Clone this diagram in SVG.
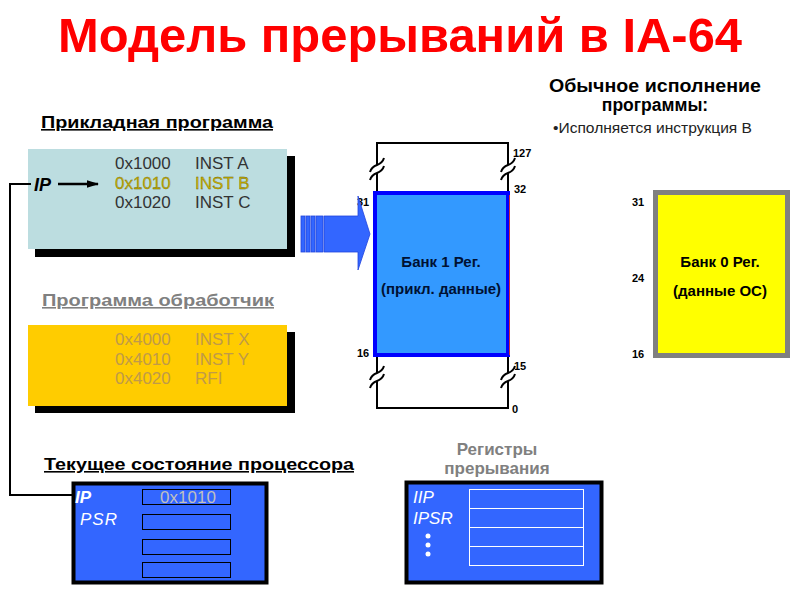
<svg xmlns="http://www.w3.org/2000/svg" width="800" height="600" viewBox="0 0 800 600">
<defs>
<style>
text{font-family:"Liberation Sans",Arial,sans-serif}
.b{font-weight:bold}
.code{font-size:17px;fill:#333}
.hl{font-size:17px;fill:#c8b000;stroke:#6a5c00;stroke-width:0.3}
.hcode{font-size:17px;fill:#c09a48}
.num{font-size:11px;font-weight:bold;fill:#000}
.wire{fill:none;stroke:#000;stroke-width:2}
.brk{fill:none;stroke:#000;stroke-width:2}
.gap{fill:#fff;stroke:none}
.wl{fill:#fff;font-style:italic;font-size:17px}
</style>
<marker id="ah" viewBox="0 0 10 10" refX="9" refY="5" markerWidth="5" markerHeight="5" orient="auto"><path d="M0,2 L10,5 L0,8 z" fill="#000"/></marker>
</defs>
<rect width="800" height="600" fill="#fff"/>
<text x="400" y="52" text-anchor="middle" class="b" font-size="48" fill="#ff0000" textLength="684" lengthAdjust="spacingAndGlyphs">Модель прерываний в IA-64</text>

<g id="app-program">
<text x="41" y="128" class="b" font-size="16" fill="#000" text-decoration="underline" textLength="232" lengthAdjust="spacingAndGlyphs">Прикладная программа</text>
<rect x="35" y="156" width="260" height="101" fill="#000"/>
<rect x="28" y="149" width="259" height="100" fill="#bcdde0"/>
<text x="115" y="169" class="code">0x1000</text><text x="195" y="169" class="code">INST A</text>
<text x="115" y="189" class="hl">0x1010</text><text x="195" y="189" class="hl">INST B</text>
<text x="115" y="208" class="code">0x1020</text><text x="195" y="208" class="code">INST C</text>
<text x="34" y="191" class="b" font-style="italic" font-size="18" fill="#000">IP</text>
</g>

<g id="handler-program">
<text x="42" y="306" class="b" font-size="16" fill="#808080" text-decoration="underline" textLength="232" lengthAdjust="spacingAndGlyphs">Программа обработчик</text>
<rect x="35" y="332" width="260" height="81" fill="#000"/>
<rect x="28" y="325" width="259" height="81" fill="#ffcc00"/>
<text x="115" y="345" class="hcode">0x4000</text><text x="195" y="345" class="hcode">INST X</text>
<text x="115" y="365" class="hcode">0x4010</text><text x="195" y="365" class="hcode">INST Y</text>
<text x="115" y="384" class="hcode">0x4020</text><text x="195" y="384" class="hcode">RFI</text>
</g>

<g id="bank1">
<path class="wire" d="M377,193 V143 H508 V193"/>
<path class="wire" d="M377,356 V408 H508 V356"/>
<rect x="375" y="193" width="133" height="162" fill="#3399ff" stroke="#0000ff" stroke-width="4"/>
<line x1="509.5" y1="195" x2="509.5" y2="355" stroke="#cc3333" stroke-width="1"/>
<text x="441" y="267" text-anchor="middle" class="b" font-size="15" fill="#001133">Банк 1 Рег.</text>
<text x="441" y="294" text-anchor="middle" class="b" font-size="15" fill="#001133">(прикл. данные)</text>
<text x="513" y="157" class="num">127</text>
<text x="514" y="193" class="num">32</text>
<text x="357" y="206" class="num">31</text>
<text x="357" y="357" class="num">16</text>
<text x="514" y="370" class="num">15</text>
<text x="512" y="413" class="num">0</text>
</g>

<g id="bank0">
<rect x="655.5" y="192.5" width="132" height="163" fill="#ffff00" stroke="#808080" stroke-width="5"/>
<text x="720" y="267" text-anchor="middle" class="b" font-size="15" fill="#000">Банк 0 Рег.</text>
<text x="720" y="296" text-anchor="middle" class="b" font-size="15" fill="#000">(данные ОС)</text>
<text x="632" y="206" class="num">31</text>
<text x="632" y="282" class="num">24</text>
<text x="632" y="358" class="num">16</text>
</g>

<g id="normal-exec">
<text x="655" y="92" text-anchor="middle" class="b" font-size="17.5" fill="#000" textLength="212" lengthAdjust="spacingAndGlyphs">Обычное исполнение</text>
<text x="655" y="111" text-anchor="middle" class="b" font-size="17.5" fill="#000">программы:</text>
<text x="553" y="133" font-size="15" fill="#222" textLength="199" lengthAdjust="spacingAndGlyphs">•Исполняется инструкция B</text>
</g>

<g id="cpu-state">
<text x="44" y="470" class="b" font-size="16" fill="#000" text-decoration="underline" textLength="310" lengthAdjust="spacingAndGlyphs">Текущее состояние процессора</text>
<rect x="73.5" y="483.5" width="193" height="99" fill="#3366ff" stroke="#000" stroke-width="4"/>
<text x="75" y="503" class="wl b">IP</text>
<text x="80" y="525" class="wl" letter-spacing="1">PSR</text>
<rect x="142.5" y="489.5" width="88" height="15" fill="none" stroke="#000" stroke-width="1"/>
<rect x="142.5" y="514.5" width="88" height="15" fill="none" stroke="#000" stroke-width="1"/>
<rect x="142.5" y="539.5" width="88" height="15" fill="none" stroke="#000" stroke-width="1"/>
<rect x="142.5" y="562.5" width="88" height="15" fill="none" stroke="#000" stroke-width="1"/>
<text x="188" y="503" text-anchor="middle" font-size="17" fill="#c0c0c0">0x1010</text>
</g>

<g id="int-regs">
<text x="497" y="455" text-anchor="middle" class="b" font-size="17" fill="#808080">Регистры</text>
<text x="497" y="474" text-anchor="middle" class="b" font-size="17" fill="#808080">прерывания</text>
<rect x="406.5" y="482.5" width="195" height="100" fill="#3366ff" stroke="#000" stroke-width="4"/>
<rect x="469.5" y="489.5" width="114" height="76" fill="none" stroke="#fff" stroke-width="1"/>
<line x1="469.5" y1="508.5" x2="583.5" y2="508.5" stroke="#fff"/>
<line x1="469.5" y1="527.5" x2="583.5" y2="527.5" stroke="#fff"/>
<line x1="469.5" y1="546.5" x2="583.5" y2="546.5" stroke="#fff"/>
<text x="413" y="503" class="wl">IIP</text>
<text x="413" y="524" class="wl">IPSR</text>
<circle cx="428" cy="536" r="2.5" fill="#fff"/>
<circle cx="428" cy="545" r="2.5" fill="#fff"/>
<circle cx="428" cy="554" r="2.5" fill="#fff"/>
</g>

<g id="connectors">
<path d="M31,184 H10 V495 H73" fill="none" stroke="#000" stroke-width="2"/>
<line x1="58" y1="184" x2="98" y2="184" stroke="#000" stroke-width="2.5" marker-end="url(#ah)"/>
<g fill="#3366ff" stroke="#2244dd" stroke-width="0.8">
<rect x="301" y="216" width="4" height="36"/>
<rect x="306" y="216" width="4" height="36"/>
<rect x="311" y="216" width="4" height="36"/>
<rect x="316" y="216" width="7" height="36"/>
<path d="M324,216 H358 V196 L370,234 L358,270 V252 H324 Z"/>
</g>
<g id="breaks">
<path class="gap" d="M370,172 C373,162 381,168 384,158 V166 C381,176 373,170 370,180 Z"/>
<path class="brk" d="M370,172 C373,162 381,168 384,158"/>
<path class="brk" d="M370,180 C373,170 381,176 384,166"/>
<path class="gap" d="M501,172 C504,162 512,168 515,158 V166 C512,176 504,170 501,180 Z"/>
<path class="brk" d="M501,172 C504,162 512,168 515,158"/>
<path class="brk" d="M501,180 C504,170 512,176 515,166"/>
<path class="gap" d="M370,380 C373,370 381,376 384,366 V374 C381,384 373,378 370,388 Z"/>
<path class="brk" d="M370,380 C373,370 381,376 384,366"/>
<path class="brk" d="M370,388 C373,378 381,384 384,374"/>
<path class="gap" d="M501,380 C504,370 512,376 515,366 V374 C512,384 504,378 501,388 Z"/>
<path class="brk" d="M501,380 C504,370 512,376 515,366"/>
<path class="brk" d="M501,388 C504,378 512,384 515,374"/>
</g>
</g>
</svg>
